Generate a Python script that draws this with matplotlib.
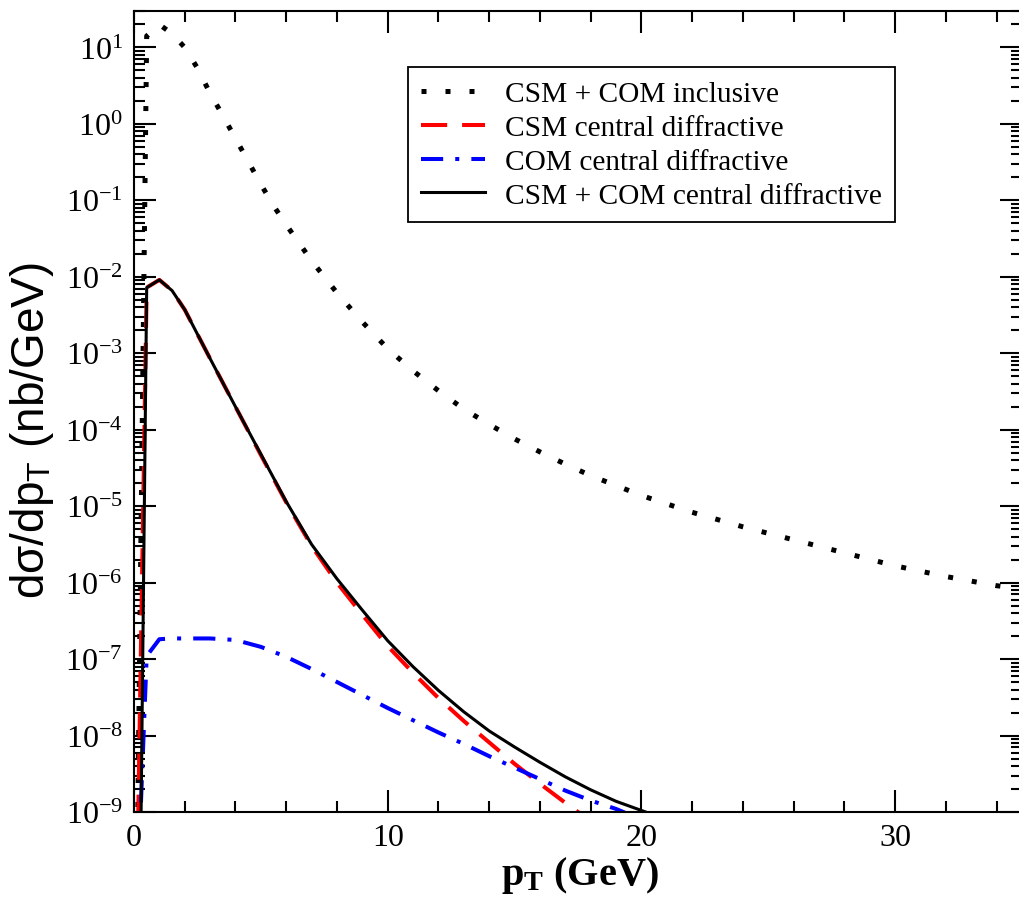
import numpy as np
import matplotlib
matplotlib.use('agg')
import matplotlib.pyplot as plt
from matplotlib.ticker import FuncFormatter, FixedLocator, LogLocator, MultipleLocator

plt.rcParams['font.family'] = ['Liberation Serif', 'DejaVu Serif']
plt.rcParams['mathtext.fontset'] = 'custom'
plt.rcParams['mathtext.rm'] = 'Liberation Serif'
plt.rcParams['mathtext.bf'] = 'Liberation Serif:bold'
plt.rcParams['mathtext.it'] = 'Liberation Serif:italic'

# values, stored as log10 of dsigma/dpT (nb/GeV)
pt_incl = [0.0, 0.5, 1.0, 1.5, 2.0, 2.5, 3.0, 3.5, 4.0, 4.5, 5.0, 5.5, 6.0, 7.0, 8.0,
           9.0, 10.0, 11.0, 12.0, 13.0, 14.0, 15.0, 16.0, 17.0, 18.0, 19.0, 20.0,
           22.0, 24.0, 26.0, 28.0, 30.0, 32.0, 34.0, 35.0]
log_incl = [-13.35, 1.15, 1.30, 1.18, 1.00, 0.73, 0.40, 0.11, -0.19, -0.49, -0.79, -1.07,
            -1.32, -1.79, -2.21, -2.59, -2.94, -3.23, -3.49, -3.73, -3.93, -4.12, -4.29,
            -4.45, -4.60, -4.73, -4.86, -5.08, -5.27, -5.44, -5.61, -5.78, -5.92, -6.04, -6.08]

pt_diff = [0.0, 0.5, 1.0, 1.5, 2.0, 3.0, 4.0, 5.0, 6.0, 7.0, 8.0, 9.0, 10.0, 11.0, 12.0,
           13.0, 14.0, 15.0, 16.0, 17.0, 18.0, 19.0, 20.0, 21.0]
log_csm = [-12.5, -2.14, -2.04, -2.18, -2.43, -3.07, -3.70, -4.33, -4.95, -5.52, -6.00,
           -6.42, -6.83, -7.18, -7.51, -7.81, -8.09, -8.37, -8.63, -8.88, -9.12, -9.35,
           -9.6, -9.85]
log_com = [-11.2, -6.96, -6.74, -6.73, -6.73, -6.73, -6.75, -6.84, -6.97, -7.13, -7.30,
           -7.47, -7.64, -7.80, -7.96, -8.11, -8.27, -8.42, -8.57, -8.72, -8.85, -8.96,
           -9.10, -9.25]
log_sum = [-17.7, -2.14, -2.04, -2.18, -2.43, -3.07, -3.70, -4.32, -4.94, -5.50, -5.95,
           -6.36, -6.76, -7.10, -7.41, -7.69, -7.94, -8.15, -8.35, -8.54, -8.71, -8.86,
           -8.98, -9.10]

labels = ['CSM + COM inclusive', 'CSM central diffractive',
          'COM central diffractive', 'CSM + COM central diffractive']
y_decades = list(range(-9, 2))

W, H = 1020, 903
fig = plt.figure(figsize=(W / 100, H / 100), dpi=100)
ax = fig.add_axes([134 / W, (H - 813) / H, (1022 - 134) / W, (813 - 12) / H])

ax.plot(pt_incl, 10 ** np.array(log_incl), color='black', lw=3.6,
        linestyle=(0, (1, 3.8)), dash_capstyle='butt', label=labels[0])
ax.plot(pt_diff, 10 ** np.array(log_csm), color='red', lw=2.9,
        linestyle=(0, (6.5, 3.7)), dash_capstyle='butt', label=labels[1])
ax.plot(pt_diff, 10 ** np.array(log_com), color='blue', lw=2.9,
        linestyle=(0, (5.5, 3.0, 1.0, 3.0)), dash_capstyle='butt', label=labels[2])
ax.plot(pt_diff, 10 ** np.array(log_sum), color='black', lw=2.2, label=labels[3])

ax.set_yscale('log')
ax.set_xlim(0, 35)
ax.set_ylim(1e-9, 30)

ax.xaxis.set_major_locator(MultipleLocator(10))
ax.xaxis.set_minor_locator(MultipleLocator(2))
ax.yaxis.set_major_locator(FixedLocator([10.0 ** d for d in y_decades]))
ax.yaxis.set_minor_locator(LogLocator(base=10, subs=np.arange(2, 10), numticks=20))
ax.yaxis.set_major_formatter(FuncFormatter(
    lambda v, p: r'$\mathregular{10^{%d}}$' % round(np.log10(v))))

ax.tick_params(which='both', direction='in', top=True, right=True, width=1.5,
               labelsize=23)
ax.tick_params(which='major', length=16, pad=8)
ax.tick_params(which='minor', length=8)
for s in ax.spines.values():
    s.set_linewidth(1.5)

fig.text(32 / W, 1 - 431 / H, r'd$\mathregular{\sigma}$/dp$_{\mathregular{T}}$ (nb/GeV)',
         rotation=90, ha='center', va='center', fontsize=33,
         family=['Liberation Sans', 'DejaVu Sans'])
fig.text(580 / W, 1 - 876 / H, r'p$_{\mathregular{T}}$ (GeV)', ha='center', va='center',
         fontsize=29, fontweight='bold')

leg = ax.legend(loc='upper left', bbox_to_anchor=(408 / W, 1 - 68 / H),
                bbox_transform=fig.transFigure, fontsize=21.2, frameon=True,
                fancybox=False, framealpha=1, edgecolor='black', borderaxespad=0,
                handlelength=2.15, handletextpad=0.7, labelspacing=0.25, borderpad=0.45)
leg.get_frame().set_linewidth(1.3)

plt.savefig('out.png', dpi=100)
